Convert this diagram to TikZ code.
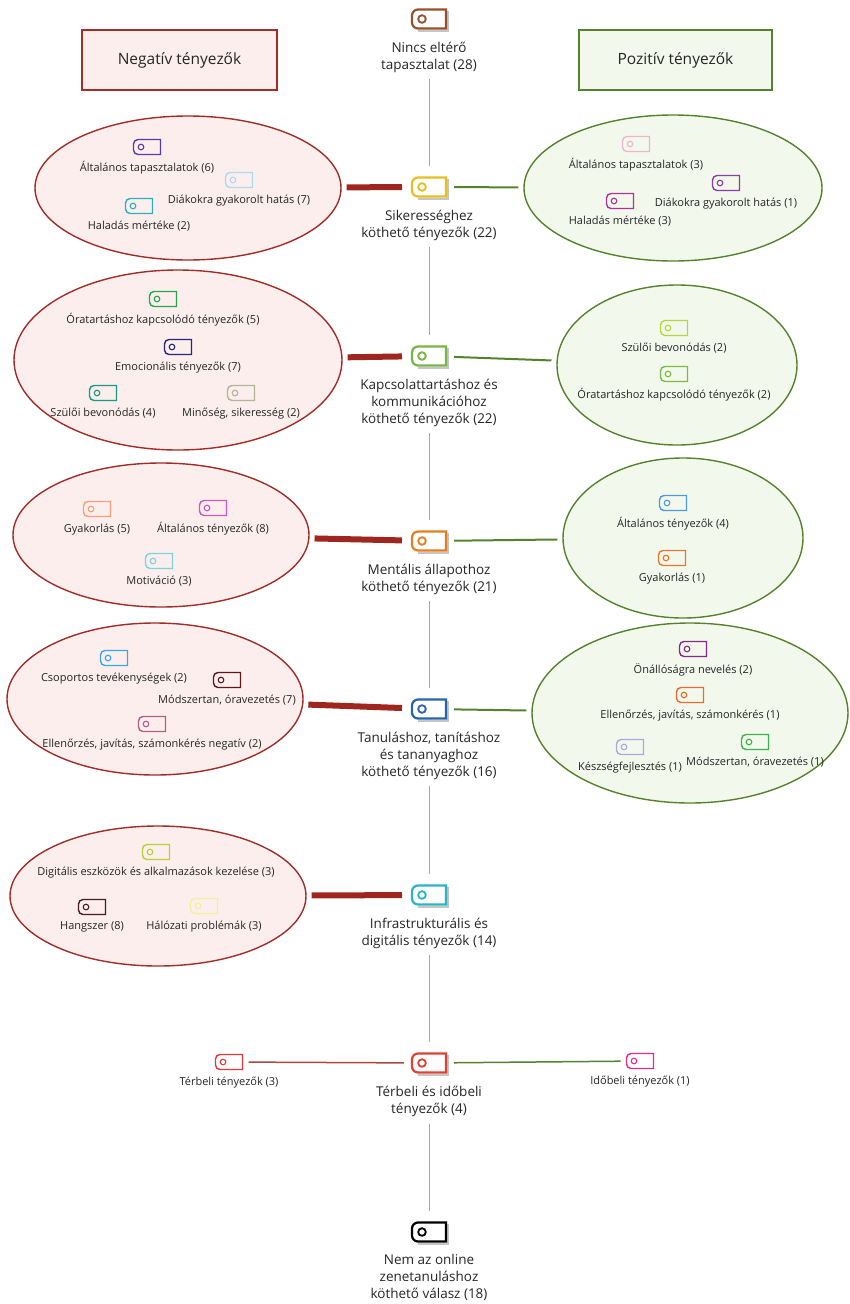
\documentclass[tikz,border=0pt]{standalone}
\usepackage{fontspec}
\setmainfont{Open Sans}
\usetikzlibrary{positioning, shapes.geometric}
\definecolor{negszin}{RGB}{160,45,40}
\definecolor{negfill}{RGB}{252,238,237}
\definecolor{negvonalszin}{RGB}{158,38,30}
\definecolor{pozszin}{RGB}{85,130,45}
\definecolor{pozfill}{RGB}{243,248,237}
\definecolor{cBrown}{RGB}{150,80,45}
\definecolor{cGold}{RGB}{230,190,30}
\definecolor{cFresh}{RGB}{120,180,70}
\definecolor{cOrange}{RGB}{232,125,30}
\definecolor{cBlue}{RGB}{40,100,170}
\definecolor{cCyan}{RGB}{40,180,195}
\definecolor{cRed}{RGB}{225,65,50}
\definecolor{cPurple}{RGB}{90,60,165}
\definecolor{cPaleBlue}{RGB}{170,220,235}
\definecolor{cTeal}{RGB}{45,175,190}
\definecolor{cPink}{RGB}{240,180,210}
\definecolor{cViolet}{RGB}{140,60,165}
\definecolor{cMagenta}{RGB}{175,50,155}
\definecolor{cGreen}{RGB}{40,165,75}
\definecolor{cNavy}{RGB}{35,40,125}
\definecolor{cSea}{RGB}{25,155,130}
\definecolor{cKhaki}{RGB}{180,180,150}
\definecolor{cLime}{RGB}{185,215,60}
\definecolor{cLeaf}{RGB}{120,190,65}
\definecolor{cPeach}{RGB}{245,160,120}
\definecolor{cOrchid}{RGB}{200,90,195}
\definecolor{cAqua}{RGB}{125,210,225}
\definecolor{cSky}{RGB}{80,155,215}
\definecolor{cCarrot}{RGB}{232,120,45}
\definecolor{cAzure}{RGB}{55,170,225}
\definecolor{cMaroon}{RGB}{90,25,30}
\definecolor{cMauve}{RGB}{175,95,140}
\definecolor{cPlum}{RGB}{135,40,140}
\definecolor{cTangerine}{RGB}{238,105,45}
\definecolor{cLavender}{RGB}{175,165,225}
\definecolor{cGrass}{RGB}{60,180,75}
\definecolor{cYellowGreen}{RGB}{180,210,50}
\definecolor{cDarkMaroon}{RGB}{75,30,30}
\definecolor{cPaleYellow}{RGB}{243,240,150}
\definecolor{cScarlet}{RGB}{225,55,55}
\definecolor{cRose}{RGB}{225,45,140}
\tikzset{
    nagy/.style={minimum width=34pt, minimum height=19pt, inner sep=0pt, outer sep=0pt},
    kis/.style={minimum width=27pt, minimum height=15pt, inner sep=0pt, outer sep=0pt},
    felirat/.style={align=center, inner sep=1pt, font=\fontsize{13.5}{17}\selectfont},
    kisfelirat/.style={inner sep=1pt, font=\fontsize{11}{12}\selectfont},
    negbubor/.style={ellipse, draw=negszin, fill=negfill, line width=1.4pt, inner sep=0pt},
    pozbubor/.style={ellipse, draw=pozszin, fill=pozfill, line width=1.4pt, inner sep=0pt},
    negdoboz/.style={draw=negszin, fill=negfill, line width=2.5pt, minimum width=195pt, minimum height=60pt, font=\fontsize{15.5}{18}\selectfont},
    pozdoboz/.style={draw=pozszin, fill=pozfill, line width=2.5pt, minimum width=193pt, minimum height=60pt, font=\fontsize{15.5}{18}\selectfont},
    negvonal/.style={draw=negvonalszin, line width=6pt, shorten <=5pt, shorten >=10pt},
    pozvonal/.style={draw=pozszin, line width=2pt, shorten <=8pt, shorten >=5pt},
    tengely/.style={draw=gray!70, line width=1pt, shorten <=6pt, shorten >=12pt},
}
\newcommand*{\nagycimke}[3]{%
    \node[nagy](#1)at(#2){};
    \draw[gray!45, line width=2pt]([shift={(2.2pt, -1pt)}]#1.north east)--([shift={(2.2pt, -2.2pt)}]#1.south east)--([shift={(6pt, -2.2pt)}]#1.south west);
    \draw[#3, line width=2.2pt, fill=white](#1.north east)--([xshift=6pt]#1.north west)arc[start angle=90, end angle=180, radius=6pt]--([yshift=6pt]#1.south west)arc[start angle=180, end angle=270, radius=6pt]--(#1.south east)--cycle;
    \draw[#3, line width=1.8pt]([xshift=10pt]#1.west)circle[radius=3.8pt];
}
\newcommand*{\kiscimke}[4]{%
    \node[kis](#1)at(#2){};
    \draw[#3, line width=1.4pt](#1.north east)--([xshift=4.5pt]#1.north west)arc[start angle=90, end angle=180, radius=4.5pt]--([yshift=4.5pt]#1.south west)arc[start angle=180, end angle=270, radius=4.5pt]--(#1.south east)--cycle;
    \draw[#3, line width=1.1pt]([xshift=7.5pt]#1.west)circle[radius=2.8pt];
    \node[kisfelirat, below=6pt of #1](#1f){#4};
}

\begin{document}
\begin{tikzpicture}[x=1pt, y=-1pt, every node/.style={text=black!85}]
    \useasboundingbox(0, 0)rectangle(850, 1304);
    \node[negdoboz](neg)at(179.5, 60){Negatív tényezők};
    \node[pozdoboz](poz)at(675.5, 60){Pozitív tényezők};
    \node[negbubor, minimum width=306pt, minimum height=144pt](n1)at(188, 188){};
    \node[pozbubor, minimum width=298pt, minimum height=146pt](p1)at(673, 188){};
    \node[negbubor, minimum width=328pt, minimum height=180pt](n2)at(178, 360){};
    \node[pozbubor, minimum width=240pt, minimum height=160pt](p2)at(677, 365){};
    \node[negbubor, minimum width=296pt, minimum height=144pt](n3)at(161, 535){};
    \node[pozbubor, minimum width=240pt, minimum height=160pt](p3)at(683, 538){};
    \node[negbubor, minimum width=296pt, minimum height=152pt](n4)at(155, 699){};
    \node[pozbubor, minimum width=316pt, minimum height=180pt](p4)at(690, 713){};
    \node[negbubor, minimum width=296pt, minimum height=140pt](n5)at(158, 896){};
    \nagycimke{t0}{429, 19}{cBrown}
    \nagycimke{t1}{429, 187}{cGold}
    \nagycimke{t2}{429, 356}{cFresh}
    \nagycimke{t3}{429, 541}{cOrange}
    \nagycimke{t4}{429, 709}{cBlue}
    \nagycimke{t5}{429, 895}{cCyan}
    \nagycimke{t6}{429, 1063}{cRed}
    \nagycimke{t7}{429, 1232}{black}
    \node[felirat, below=12pt of t0](t0f){Nincs eltérő\\tapasztalat (28)};
    \node[felirat, below=12pt of t1](t1f){Sikerességhez\\köthető tényezők (22)};
    \node[felirat, below=12pt of t2](t2f){Kapcsolattartáshoz és\\kommunikációhoz\\köthető tényezők (22)};
    \node[felirat, below=12pt of t3](t3f){Mentális állapothoz\\köthető tényezők (21)};
    \node[felirat, below=12pt of t4](t4f){Tanuláshoz, tanításhoz\\és tananyaghoz\\köthető tényezők (16)};
    \node[felirat, below=12pt of t5](t5f){Infrastrukturális és\\digitális tényezők (14)};
    \node[felirat, below=12pt of t6](t6f){Térbeli és időbeli\\tényezők (4)};
    \node[felirat, below=12pt of t7](t7f){Nem az online\\zenetanuláshoz\\köthető válasz (18)};
    \draw[tengely](t0f)--(t1);
    \draw[tengely](t1f)--(t2);
    \draw[tengely](t2f)--(t3);
    \draw[tengely](t3f)--(t4);
    \draw[tengely](t4f)--(t5);
    \draw[tengely](t5f)--(t6);
    \draw[tengely](t6f)--(t7);
    \draw[negvonal](n1)--(t1);
    \draw[negvonal](n2)--(t2);
    \draw[negvonal](n3)--(t3);
    \draw[negvonal](n4)--(t4);
    \draw[negvonal](n5)--(t5);
    \draw[pozvonal](t1)--(p1);
    \draw[pozvonal](t2)--(p2);
    \draw[pozvonal](t3)--(p3);
    \draw[pozvonal](t4)--(p4);
    \kiscimke{n1a}{147, 147}{cPurple}{Általános tapasztalatok (6)}
    \kiscimke{n1b}{239, 180}{cPaleBlue}{Diákokra gyakorolt hatás (7)}
    \kiscimke{n1c}{139, 206}{cTeal}{Haladás mértéke (2)}
    \kiscimke{p1a}{636, 144}{cPink}{Általános tapasztalatok (3)}
    \kiscimke{p1b}{726, 183}{cViolet}{Diákokra gyakorolt hatás (1)}
    \kiscimke{p1c}{620, 201}{cMagenta}{Haladás mértéke (3)}
    \kiscimke{n2a}{163, 299}{cGreen}{Óratartáshoz kapcsolódó tényezők (5)}
    \kiscimke{n2b}{178, 347}{cNavy}{Emocionális tényezők (7)}
    \kiscimke{n2c}{103, 393}{cSea}{Szülői bevonódás (4)}
    \kiscimke{n2d}{241, 393}{cKhaki}{Minőség, sikeresség (2)}
    \kiscimke{p2a}{674, 328}{cLime}{Szülői bevonódás (2)}
    \kiscimke{p2b}{674, 374}{cLeaf}{Óratartáshoz kapcsolódó tényezők (2)}
    \kiscimke{n3a}{97, 509}{cPeach}{Gyakorlás (5)}
    \kiscimke{n3b}{213, 508}{cOrchid}{Általános tényezők (8)}
    \kiscimke{n3c}{159, 561}{cAqua}{Motiváció (3)}
    \kiscimke{p3a}{673, 503}{cSky}{Általános tényezők (4)}
    \kiscimke{p3b}{672, 558}{cCarrot}{Gyakorlás (1)}
    \kiscimke{n4a}{114, 658}{cAzure}{Csoportos tevékenységek (2)}
    \kiscimke{n4b}{227, 680}{cMaroon}{Módszertan, óravezetés (7)}
    \kiscimke{n4c}{152, 724}{cMauve}{Ellenőrzés, javítás, számonkérés negatív (2)}
    \kiscimke{p4a}{693, 649}{cPlum}{Önállóságra nevelés (2)}
    \kiscimke{p4b}{690, 695}{cTangerine}{Ellenőrzés, javítás, számonkérés (1)}
    \kiscimke{p4c}{630, 747}{cLavender}{Készségfejlesztés (1)}
    \kiscimke{p4d}{755, 742}{cGrass}{Módszertan, óravezetés (1)}
    \kiscimke{n5a}{156, 852}{cYellowGreen}{Digitális eszközök és alkalmazások kezelése (3)}
    \kiscimke{n5b}{92, 907}{cDarkMaroon}{Hangszer (8)}
    \kiscimke{n5c}{204, 906}{cPaleYellow}{Hálózati problémák (3)}
    \kiscimke{t6a}{229, 1062}{cScarlet}{Térbeli tényezők (3)}
    \kiscimke{t6b}{640, 1061}{cRose}{Időbeli tényezők (1)}
    \draw[negvonalszin!85, line width=1.5pt, shorten <=6pt, shorten >=8pt](t6a)--(t6);
    \draw[pozszin, line width=1.5pt, shorten <=8pt, shorten >=6pt](t6)--(t6b);
\end{tikzpicture}
\end{document}
